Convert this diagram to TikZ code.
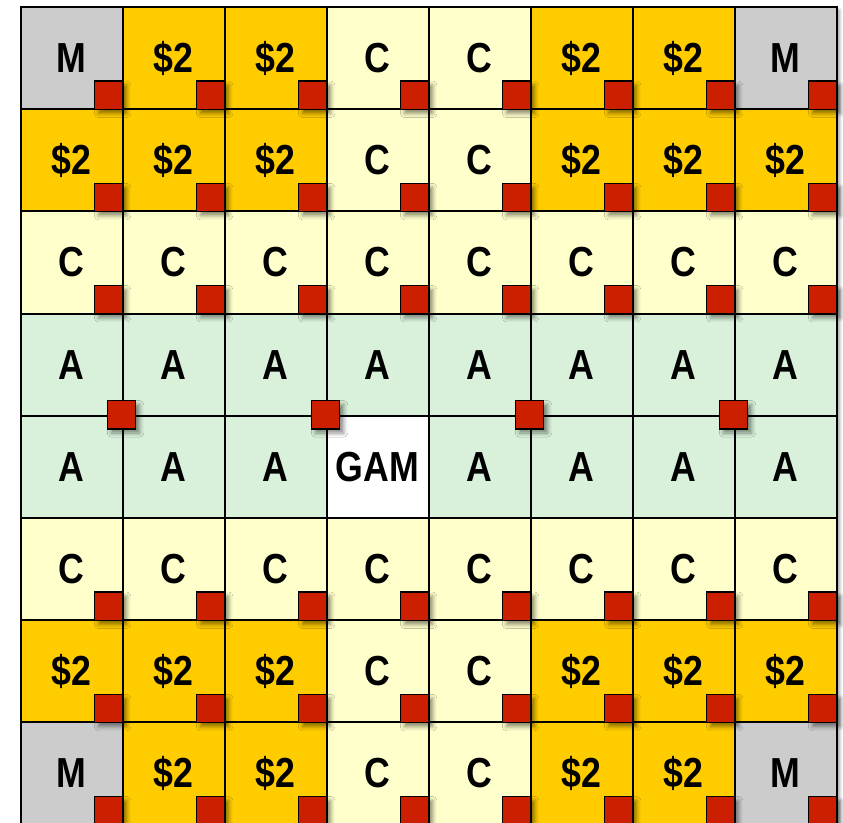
\documentclass[tikz,border=0pt]{standalone}
\usepackage{fontspec}
\usepackage{tikz}
\usetikzlibrary{shadows.blur}
\newfontfamily\cellfont[FakeStretch=0.85]{Liberation Sans}
\definecolor{bGray}{HTML}{CCCCCC}
\definecolor{bGold}{HTML}{FFCC00}
\definecolor{bCream}{HTML}{FFFFCC}
\definecolor{bGreen}{HTML}{D9F1DA}
\definecolor{bRed}{HTML}{CC1F00}

% board rows, one letter per square
\def\rowi{M,D,D,C,C,D,D,M}
\def\rowii{D,D,D,C,C,D,D,D}
\def\rowiii{C,C,C,C,C,C,C,C}
\def\rowiv{A,A,A,A,A,A,A,A}
\def\rowv{A,A,A,G,A,A,A,A}

\begin{document}
\begin{tikzpicture}[x=1pt, y=-1pt,
      cell/.style={draw, line width=2pt, minimum width=102pt, minimum height=102.2pt, inner sep=0pt,
        font=\cellfont\bfseries\fontsize{42}{42}\selectfont},
      kM/.style={cell, fill=bGray, node contents={M}},
      kD/.style={cell, fill=bGold, node contents={\$2}},
      kC/.style={cell, fill=bCream, node contents={C}},
      kA/.style={cell, fill=bGreen, node contents={A}},
      kG/.style={cell, fill=white, node contents={GAM}},
      redsq/.style={draw, line width=1.3pt, fill=bRed, minimum size=28.5pt, inner sep=0pt,
        blur shadow={shadow xshift=4pt, shadow yshift=-4pt, shadow blur radius=4pt, shadow opacity=45}}]
    \useasboundingbox (0,0) rectangle (843,822);
    \clip (0,0) rectangle (843,822);
    % shadow of the whole board
    \fill[white, blur shadow={shadow xshift=3pt, shadow yshift=-3pt, shadow blur radius=3pt, shadow opacity=40}]
      (20.5,7) rectangle (836.5,824.6);
    % squares of the board
    \foreach \r/\row in {1/\rowi, 2/\rowii, 3/\rowiii, 4/\rowiv, 5/\rowv, 6/\rowiii, 7/\rowii, 8/\rowi} {
      \edef\cur{\row}
      \foreach \t [count=\c] in \cur
        \node[name=c-\r-\c, at={(102*\c-30.5, 102.2*\r-44.1)}, k\t];
    }
    % red markers in the corners
    \foreach \r in {1,2,3,6,7,8}
      \foreach \c in {1,...,8}
        \node[redsq, anchor=south east] (m-\r-\c) at (c-\r-\c.south east) {};
    \foreach \c in {2,4,6,8}
      \node[redsq] (m-4-\c) at (c-5-\c.north west) {};
  \end{tikzpicture}
\end{document}
